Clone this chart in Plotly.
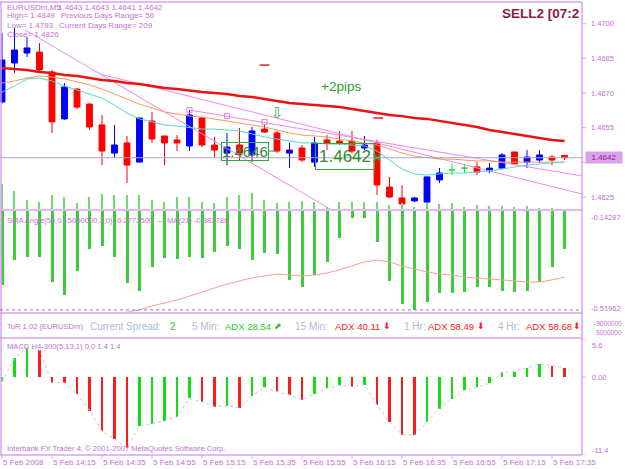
import plotly.graph_objects as go

# ---------------- data ----------------
bars = list(range(46))  # 5-minute bars, 13:55 .. 17:40 on 5 Feb 2008
open_ = [1.46661, 1.46830, 1.46873, 1.46877, 1.46791, 1.46588, 1.46717, 1.46652, 1.46562, 1.46440,
         1.46484, 1.46401, 1.46579, 1.46514, 1.46497, 1.46471, 1.46592, 1.46475, 1.46440, 1.46475,
         1.46432, 1.46544, 1.46527, 1.46440, 1.46462, 1.46401, 1.46497, 1.46492, 1.46492, 1.46462,
         1.46484, 1.46293, 1.46246, 1.46233, 1.46228, 1.46324, 1.46367, 1.46375, 1.46380, 1.46363,
         1.46375, 1.46445, 1.46401, 1.46410, 1.46423, 1.46430]
high = [1.46960, 1.46981, 1.46942, 1.46916, 1.46800, 1.46743, 1.46722, 1.46657, 1.46605, 1.46562,
        1.46514, 1.46592, 1.46618, 1.46514, 1.46518, 1.46626, 1.46596, 1.46510, 1.46527, 1.46549,
        1.46553, 1.46562, 1.46536, 1.46484, 1.46475, 1.46510, 1.46518, 1.46536, 1.46536, 1.46514,
        1.46497, 1.46337, 1.46302, 1.46250, 1.46337, 1.46375, 1.46397, 1.46393, 1.46401, 1.46397,
        1.46440, 1.46445, 1.46453, 1.46453, 1.46432, 1.46430]
low = [1.46655, 1.46787, 1.46856, 1.46791, 1.46527, 1.46584, 1.46631, 1.46540, 1.46388, 1.46419,
       1.46311, 1.46401, 1.46484, 1.46388, 1.46449, 1.46449, 1.46466, 1.46423, 1.46388, 1.46410,
       1.46401, 1.46527, 1.46440, 1.46375, 1.46401, 1.46380, 1.46453, 1.46475, 1.46440, 1.46453,
       1.46259, 1.46246, 1.46215, 1.46228, 1.46228, 1.46311, 1.46345, 1.46354, 1.46345, 1.46354,
       1.46371, 1.46393, 1.46375, 1.46397, 1.46388, 1.46410]
close = [1.46843, 1.46886, 1.46895, 1.46800, 1.46575, 1.46726, 1.46639, 1.46553, 1.46449, 1.46475,
         1.46388, 1.46592, 1.46501, 1.46484, 1.46484, 1.46605, 1.46475, 1.46453, 1.46466, 1.46440,
         1.46536, 1.46531, 1.46449, 1.46453, 1.46410, 1.46484, 1.46484, 1.46484, 1.46449, 1.46475,
         1.46302, 1.46250, 1.46220, 1.46246, 1.46337, 1.46354, 1.46367, 1.46375, 1.46358, 1.46375,
         1.46432, 1.46393, 1.46423, 1.46432, 1.46410, 1.46420]

ma_slow = [1.46808, 1.46804, 1.46800, 1.46791, 1.46787, 1.46778, 1.46774, 1.46765, 1.46756, 1.46752,
           1.46743, 1.46739, 1.46730, 1.46722, 1.46717, 1.46709, 1.46704, 1.46700, 1.46696, 1.46687,
           1.46683, 1.46674, 1.46665, 1.46657, 1.46652, 1.46648, 1.46644, 1.46639, 1.46631, 1.46622,
           1.46613, 1.46605, 1.46600, 1.46592, 1.46588, 1.46579, 1.46570, 1.46562, 1.46553, 1.46540,
           1.46531, 1.46523, 1.46514, 1.46505, 1.46497, 1.46492]
ma_mid = [1.46743, 1.46752, 1.46765, 1.46774, 1.46769, 1.46761, 1.46748, 1.46735, 1.46717, 1.46696,
          1.46674, 1.46652, 1.46635, 1.46618, 1.46609, 1.46600, 1.46596, 1.46588, 1.46579, 1.46570,
          1.46562, 1.46553, 1.46540, 1.46527, 1.46518, 1.46514, 1.46510, 1.46501, 1.46492, 1.46484,
          1.46475, 1.46458, 1.46440, 1.46427, 1.46419, 1.46414, 1.46414, 1.46410, 1.46406, 1.46406,
          1.46401, 1.46401, 1.46401, 1.46401, 1.46401, 1.46401]
ma_fast = [1.46704, 1.46730, 1.46761, 1.46765, 1.46752, 1.46730, 1.46713, 1.46696, 1.46678, 1.46648,
           1.46613, 1.46588, 1.46575, 1.46562, 1.46557, 1.46549, 1.46544, 1.46544, 1.46540, 1.46536,
           1.46523, 1.46510, 1.46501, 1.46492, 1.46484, 1.46484, 1.46479, 1.46479, 1.46475, 1.46471,
           1.46449, 1.46410, 1.46371, 1.46350, 1.46345, 1.46350, 1.46354, 1.46354, 1.46358, 1.46363,
           1.46371, 1.46380, 1.46388, 1.46393, 1.46397, 1.46401]

main_hist = [25, 18, 9, 7, 14, 12, 6, 12, 15, 14, 14, 14, 9, 7, 12, 12, 7, 6, 12, 14,
             16, 9, 6, 7, 8, 7, 2, 7, 7, 7, 7, 4, 6, 2, 6, 5, 6, 2, 4, 3, 3, 2, 3, 1, 1, 0]

trend_a_bar, trend_a_price = [1.84, 26.24], [1.46973, 1.46198]
trend_b_bar, trend_b_price = [7.84, 46.4], [1.46782, 1.46263]
trend_c_bar, trend_c_price = [15.04, 46.4], [1.46626, 1.46341]
pivot_bar, pivot_price = [15, 18, 21], [1.46626, 1.46600, 1.46575]
red_mark_bar, red_mark_price = [21, 30.1], [1.46821, 1.46592]

sma_angle = [-0.423, -0.326, -0.314, -0.314, -0.411, -0.462, -0.368, -0.283, -0.271, -0.314,
             -0.415, -0.446, -0.353, -0.318, -0.322, -0.314, -0.318, -0.294, -0.271, -0.283,
             -0.326, -0.298, -0.302, -0.403, -0.431, -0.384, -0.333, -0.240, -0.162, -0.162,
             -0.256, -0.407, -0.497, -0.520, -0.489, -0.454, -0.454, -0.450, -0.431, -0.431,
             -0.446, -0.450, -0.446, -0.411, -0.353, -0.283]
sma_ma21 = [None] * 8 + [-0.547, -0.536, -0.528, -0.520, -0.504, -0.493, -0.481, -0.466, -0.450, -0.434,
                         -0.419, -0.407, -0.395, -0.388, -0.380, -0.384, -0.388, -0.384, -0.376, -0.364,
                         -0.349, -0.333, -0.326, -0.333, -0.349, -0.361, -0.372, -0.380, -0.384, -0.392,
                         -0.395, -0.399, -0.403, -0.407, -0.411, -0.411, -0.403, -0.392]

macd = [-0.7, 2.8, 4.3, 4.0, -0.8, -0.8, -2.4, -4.9, -7.9, -9.0,
        -10.4, -7.1, -6.8, -6.4, -5.8, -3.1, -3.6, -4.3, -4.2, -4.5,
        -2.7, -1.5, -2.1, -2.6, -3.3, -2.5, -1.6, -1.2, -1.4, -1.1,
        -4.1, -6.6, -8.4, -8.5, -6.5, -4.6, -3.2, -1.9, -1.5, -0.9,
        0.7, 0.8, 1.4, 1.9, 1.7, 1.4]

time_label_bars = [0, 4, 8, 12, 16, 20, 24, 28, 32, 36, 40, 44]
time_labels = ["5 Feb 2008", "5 Feb 14:15", "5 Feb 14:35", "5 Feb 14:55", "5 Feb 15:15", "5 Feb 15:35",
               "5 Feb 15:55", "5 Feb 16:15", "5 Feb 16:35", "5 Feb 16:55", "5 Feb 17:15", "5 Feb 17:35"]
price_ticks = [1.4700, 1.4685, 1.4670, 1.4655, 1.4640, 1.4625]
current_price = 1.4642
sma_ticks = [-0.14287, -0.51962]
macd_ticks = [5.6, 0.0, -11.4]
macd_tick_text = ["5.6", "0.00", "-11.4"]

# ---------------- layout helpers ----------------
W, H = 625, 469
def px(x):
    return x / W
def py(y):
    return 1 - y / H

VIOLET = "#c46fd2"
BORDER = "#d8a2ee"
FONT = "Liberation Sans"
XR = [-0.16, 46.4]
XD = [0, px(582)]

fig = go.Figure()

# main-window histogram at bottom of price panel
fig.add_trace(go.Bar(x=bars, y=main_hist, xaxis="x", yaxis="y4", width=0.14,
                     marker=dict(color="#6fd86f", line=dict(width=0))))

# candles
normal = [i for i in bars if open_[i] != close[i]]
doji = [i for i in bars if open_[i] == close[i]]
fig.add_trace(go.Candlestick(
    x=normal, open=[open_[i] for i in normal], high=[high[i] for i in normal],
    low=[low[i] for i in normal], close=[close[i] for i in normal],
    increasing=dict(line=dict(color="#0000ff", width=1), fillcolor="#0000ff"),
    decreasing=dict(line=dict(color="#ff0000", width=1), fillcolor="#ff0000"),
    whiskerwidth=0, xaxis="x", yaxis="y"))
fig.add_trace(go.Candlestick(
    x=doji, open=[open_[i] for i in doji], high=[high[i] for i in doji],
    low=[low[i] for i in doji], close=[close[i] for i in doji],
    increasing=dict(line=dict(color="#33dd33", width=1), fillcolor="#33dd33"),
    decreasing=dict(line=dict(color="#33dd33", width=1), fillcolor="#33dd33"),
    whiskerwidth=0, xaxis="x", yaxis="y"))

# trend lines
for tb, tp in [(trend_a_bar, trend_a_price), (trend_b_bar, trend_b_price), (trend_c_bar, trend_c_price)]:
    fig.add_trace(go.Scatter(x=tb, y=tp, mode="lines", line=dict(color="#ee88ee", width=1),
                             xaxis="x", yaxis="y"))
fig.add_trace(go.Scatter(x=pivot_bar, y=pivot_price, mode="markers",
                         marker=dict(symbol="square-open", size=5, color="#e080e0", line=dict(width=1)),
                         xaxis="x", yaxis="y"))

# moving averages
fig.add_trace(go.Scatter(x=bars, y=ma_mid, mode="lines", line=dict(color="#f59a5c", width=1), xaxis="x", yaxis="y"))
fig.add_trace(go.Scatter(x=bars, y=ma_fast, mode="lines", line=dict(color="#55d8d0", width=1), xaxis="x", yaxis="y"))
fig.add_trace(go.Scatter(x=bars, y=ma_slow, mode="lines", line=dict(color="#ee1111", width=2.5), xaxis="x", yaxis="y"))

fig.add_trace(go.Scatter(x=red_mark_bar, y=red_mark_price, mode="markers",
                         marker=dict(symbol="line-ew", size=7, line=dict(color="#dd2222", width=1.5)),
                         xaxis="x", yaxis="y"))
fig.add_trace(go.Scatter(x=[30], y=[current_price], mode="markers",
                         marker=dict(symbol="x-thin", size=7, line=dict(color="#2e9e2e", width=1.5)),
                         xaxis="x", yaxis="y"))

# SMA angle window
fig.add_trace(go.Bar(x=bars, y=sma_angle, xaxis="x2", yaxis="y2", width=0.24,
                     marker=dict(color="#3ccc3c", line=dict(width=0))))
fig.add_trace(go.Scatter(x=bars, y=sma_ma21, mode="lines", line=dict(color="#f7a090", width=1),
                         xaxis="x2", yaxis="y2"))

# MACD window
macd_colors = ["#11dd11" if (i == 0 or macd[i] > macd[i - 1]) else "#ff1a1a" for i in bars]
fig.add_trace(go.Bar(x=bars, y=macd, xaxis="x3", yaxis="y3", width=0.2,
                     marker=dict(color=macd_colors, line=dict(width=0))))
fig.add_trace(go.Scatter(x=bars, y=macd, mode="lines", line=dict(color="#c8c8dc", width=1, dash="dot"),
                         xaxis="x3", yaxis="y3"))

shapes = []
def hline(y, x0=0, x1=582, color=BORDER, width=1.5, dash=None):
    shapes.append(dict(type="line", xref="paper", yref="paper", x0=px(x0), x1=px(x1), y0=py(y), y1=py(y),
                       line=dict(color=color, width=width, dash=dash)))

for yy in [2, 210, 313, 338, 455]:
    hline(yy)
shapes.append(dict(type="line", xref="paper", yref="paper", x0=px(582), x1=px(582), y0=py(2), y1=py(455),
                   line=dict(color=BORDER, width=1.5)))
shapes.append(dict(type="line", xref="paper", yref="paper", x0=px(1), x1=px(1), y0=py(2), y1=py(455),
                   line=dict(color=BORDER, width=1.5)))
# current price line
shapes.append(dict(type="line", xref="paper", yref="y", x0=0, x1=px(582), y0=current_price, y1=current_price,
                   line=dict(color="#a9aacb", width=1)))
# SMA bottom dotted level
shapes.append(dict(type="line", xref="paper", yref="y2", x0=0, x1=px(582), y0=sma_ticks[1], y1=sma_ticks[1],
                   line=dict(color="#8a8a8a", width=1, dash="dot")))
# right-axis tick marks
for p in price_ticks:
    shapes.append(dict(type="line", xref="paper", yref="y", x0=px(582), x1=px(586), y0=p, y1=p,
                       line=dict(color=BORDER, width=1)))
for v in macd_ticks:
    shapes.append(dict(type="line", xref="paper", yref="y3", x0=px(582), x1=px(586), y0=v, y1=v,
                       line=dict(color=BORDER, width=1)))
# time-axis tick marks
for b in time_label_bars:
    shapes.append(dict(type="line", xref="x3", yref="paper", x0=b, x1=b, y0=py(455), y1=py(459),
                       line=dict(color=BORDER, width=1)))

ann = []
def text(t, x, y, size=8, color=VIOLET, anchor="left", **kw):
    ann.append(dict(text=t, x=px(x), y=py(y), xref="paper", yref="paper", showarrow=False,
                    xanchor=anchor, yanchor="middle", font=dict(family=FONT, size=size, color=color), **kw))

# header
text("EURUSDm,M5", 5, 7)
text("1.4643 1.4643 1.4641 1.4642", 56, 7)
text("High= 1.4849", 5, 16)
text("Previous Days Range= 56", 59, 16)
text("Low= 1.4793", 5, 25)
text("Current Days Range= 209", 57, 25)
text("Close= 1.4826", 5, 34)
text("<b>SELL2 [07:2</b>", 581, 14, size=13.5, color="#8e1c40", anchor="right")

# right axis labels (the one under the current-price box is hidden by it, as in MT4)
for p in price_ticks:
    if abs(p - current_price) < 0.0004:
        continue
    ann.append(dict(text=f"{p:.4f}", x=px(589), y=p, xref="paper", yref="y", showarrow=False,
                    xanchor="left", yanchor="middle", font=dict(family=FONT, size=7.5, color=VIOLET)))
ann.append(dict(text=f"{current_price:.4f}", x=px(604), y=current_price, xref="paper", yref="y",
                showarrow=False, xanchor="center", yanchor="middle", bgcolor="#d9a0ec", borderpad=1,
                width=34, font=dict(family=FONT, size=8, color="#a0208a")))
for v, sh in zip(sma_ticks, [-4, 1]):
    ann.append(dict(text=f"{v:.5f}", x=px(589), y=v, xref="paper", yref="y2", showarrow=False, yshift=sh,
                    xanchor="left", yanchor="middle", font=dict(family=FONT, size=7.5, color=VIOLET)))
for v, t, sh in zip(macd_ticks, macd_tick_text, [-6, 0, 5]):
    ann.append(dict(text=t, x=px(590), y=v, xref="paper", yref="y3", showarrow=False, yshift=sh,
                    xanchor="left", yanchor="middle", font=dict(family=FONT, size=7.5, color=VIOLET)))
text("-9000000", 624, 323, size=6.6, anchor="right")
text("9000000", 624, 332, size=6.6, anchor="right")

# time axis labels
for b, t in zip(time_label_bars, time_labels):
    ann.append(dict(text=t, x=b, y=py(462), xref="x3", yref="paper", showarrow=False, xshift=-1,
                    xanchor="left", yanchor="middle", font=dict(family=FONT, size=8, color=VIOLET)))

# sub-window labels
text("SMA Angle(50,0.15000000,2,0) -0.2772500  \u2014 MA(21) -0.382786", 5, 220, size=7.6)
text("ToR 1.02 (EURUSDm)", 5, 326, size=7.6)
text("Current Spread:", 88, 326, size=10, color="#adbbd8")
text("2", 168, 326, size=10, color="#22cc22")
text("5 Min:", 190, 326, size=10, color="#adbbd8")
text("ADX 28.54", 223, 326, size=9.5, color="#22cc22")
text("\u2b08", 272, 326, size=9, color="#22bb22")
text("15 Min:", 293, 326, size=10, color="#adbbd8")
text("ADX 40.11", 333, 326, size=9.5, color="#ff2020")
text("\u2b07", 381, 326, size=9, color="#ff2020")
text("1 Hr:", 402, 326, size=10, color="#adbbd8")
text("ADX 58.49", 426, 326, size=9.5, color="#ff2020")
text("\u2b07", 475, 326, size=9, color="#ff2020")
text("4 Hr:", 496, 326, size=10, color="#adbbd8")
text("ADX 58.68", 524, 326, size=9.5, color="#ff2020")
text("\u2b07", 571, 326, size=9, color="#ff2020")
text("MACD H4-300(5,13,1) 0.0 1.4 1.4", 5, 346, size=7.6)
text("Interbank FX Trader 4, \u00a9 2001-2007 MetaQuotes Software Corp.", 5, 448, size=7.6)

# objects on price chart
ann.append(dict(text="+2pips", x=27.1, y=1.46730, xref="x", yref="y", showarrow=False,
                font=dict(family=FONT, size=13.5, color="#2ca02c")))
ann.append(dict(text="\u21e9", x=22, y=1.46613, xref="x", yref="y", showarrow=False,
                font=dict(family="DejaVu Sans", size=15, color="#33aa33")))
ann.append(dict(text="1.4646", x=22.1, y=1.46449, xref="x", yref="y", showarrow=True, ax=-33, ay=0,
                arrowhead=0, arrowwidth=1, arrowcolor="#33aa33", standoff=0,
                bordercolor="#33aa33", borderwidth=1, borderpad=0,
                font=dict(family=FONT, size=15, color="#2e8b2e")))
ann.append(dict(text="1.4642", x=30, y=current_price, xref="x", yref="y", showarrow=True, ax=-32, ay=-1,
                arrowhead=0, arrowwidth=1, arrowcolor="#33aa33", standoff=0,
                bordercolor="#33aa33", borderwidth=1, borderpad=3,
                font=dict(family=FONT, size=17, color="#2e8b2e")))

axis_common = dict(visible=False, fixedrange=True)
fig.update_layout(
    width=W, height=H, margin=dict(l=0, r=0, t=0, b=0),
    paper_bgcolor="white", plot_bgcolor="white", showlegend=False, boxgap=0.33,
    xaxis=dict(domain=XD, range=XR, anchor="y", rangeslider=dict(visible=False), **axis_common),
    xaxis2=dict(domain=XD, range=XR, anchor="y2", **axis_common),
    xaxis3=dict(domain=XD, range=XR, anchor="y3", **axis_common),
    yaxis=dict(domain=[py(209), py(2)], range=[1.461981, 1.470938], **axis_common),
    yaxis4=dict(overlaying="y", range=[0, 207], **axis_common),
    yaxis2=dict(domain=[py(312), py(211)], range=[-0.52779, -0.135], **axis_common),
    yaxis3=dict(domain=[py(455), py(339)], range=[-11.4, 5.6], **axis_common),
    shapes=shapes, annotations=ann, bargap=0,
)

fig.write_html("out.html")
